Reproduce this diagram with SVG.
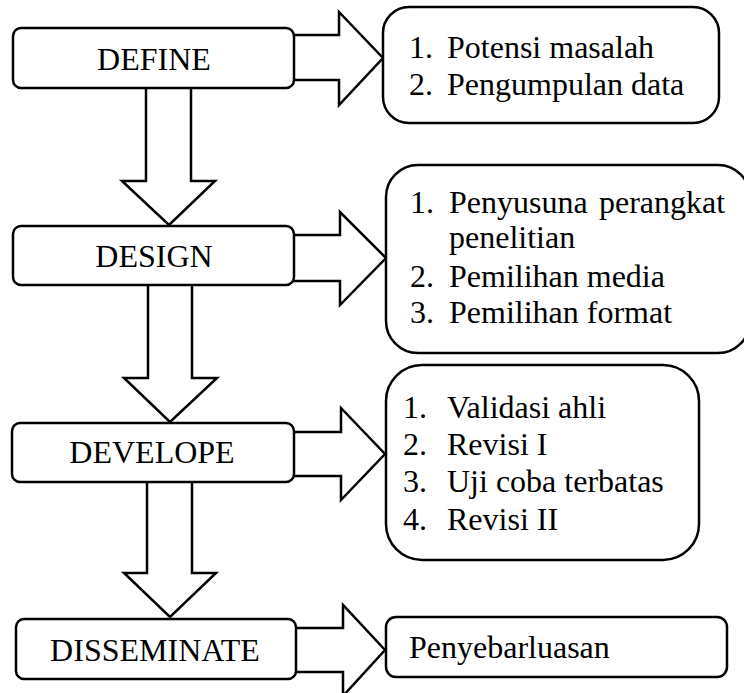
<svg xmlns="http://www.w3.org/2000/svg" width="744" height="693" viewBox="0 0 744 693">
<style>
.shape{fill:#fff;stroke:#000;stroke-width:2.5;stroke-linejoin:miter}
.box{fill:#fff;stroke:#000;stroke-width:2.5}
text{font-family:"Liberation Serif","Times New Roman",serif;font-size:32px;fill:#000}
.c{text-anchor:middle}
</style>
<rect width="744" height="693" fill="#fff"/>
<g id="connectors">
<polygon class="shape" points="146,86 146,181 122,181 169,225 215,181 191,181 191,86"/>
<polygon class="shape" points="148,283 148,378 124,378 170,422 217,378 192,378 192,283"/>
<polygon class="shape" points="147,480 147,573 124,573 170,617 216,573 192,573 192,480"/>
<polygon class="shape" points="292,35 339,35 339,12 383,58 339,105 339,80 292,80"/>
<polygon class="shape" points="292,235 340,235 340,212 386,258 340,305 340,281 292,281"/>
<polygon class="shape" points="292,432 341,432 341,408 385,454 341,500 341,476 292,476"/>
<polygon class="shape" points="294,628 343,628 343,605 385,650 343,696 343,672 294,672"/>
</g>
<g id="define">
<rect class="box" x="13" y="28" width="281" height="60" rx="8"/>
<text class="c" x="154" y="70">DEFINE</text>
</g>
<g id="design">
<rect class="box" x="13" y="226" width="281" height="59" rx="8"/>
<text class="c" x="154" y="267">DESIGN</text>
</g>
<g id="develope">
<rect class="box" x="12" y="423" width="282" height="59" rx="8"/>
<text class="c" x="152" y="463">DEVELOPE</text>
</g>
<g id="disseminate">
<rect class="box" x="16" y="619" width="280" height="60" rx="8"/>
<text class="c" x="155" y="661">DISSEMINATE</text>
</g>
<g id="define-items">
<rect class="box" x="383" y="7" width="336" height="116" rx="26"/>
<text x="409" y="58">1.</text><text x="447" y="58">Potensi masalah</text>
<text x="409" y="95">2.</text><text x="447" y="95">Pengumpulan data</text>
</g>
<g id="design-items">
<rect class="box" x="386" y="165" width="364" height="188" rx="32"/>
<text x="410" y="213">1.</text><text x="449" y="213">Penyusuna</text><text x="599" y="213">perangkat</text>
<text x="449" y="248">penelitian</text>
<text x="410" y="287">2.</text><text x="449" y="287">Pemilihan media</text>
<text x="410" y="323">3.</text><text x="449" y="323">Pemilihan format</text>
</g>
<g id="develope-items">
<rect class="box" x="386" y="365" width="313" height="195" rx="36"/>
<text x="403" y="418">1.</text><text x="447" y="418">Validasi ahli</text>
<text x="403" y="455">2.</text><text x="447" y="455">Revisi I</text>
<text x="403" y="492">3.</text><text x="447" y="492">Uji coba terbatas</text>
<text x="403" y="530">4.</text><text x="447" y="530">Revisi II</text>
</g>
<g id="disseminate-items">
<rect class="box" x="386" y="617" width="341" height="60" rx="10"/>
<text x="409" y="658">Penyebarluasan</text>
</g>
</svg>
